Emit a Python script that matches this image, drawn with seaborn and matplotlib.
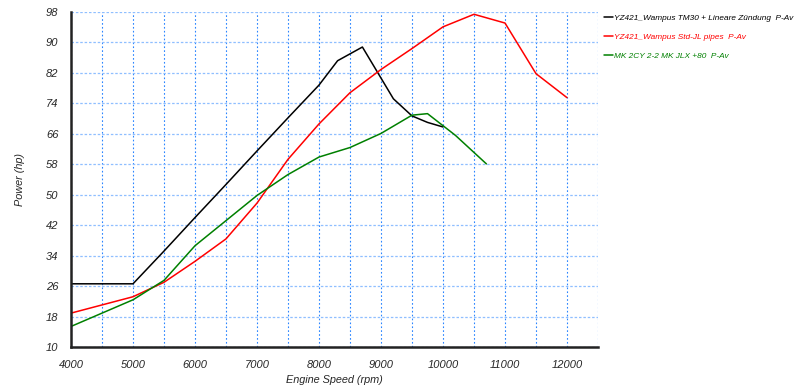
import matplotlib
matplotlib.use("Agg")
import matplotlib.pyplot as plt
from matplotlib.ticker import MultipleLocator, FixedLocator, FuncFormatter
import pandas as pd
import seaborn as sns

# Dyno curves (rpm vs hp)
tm30_rpm = [4000, 5000, 5500, 6000, 6500, 7000, 7500, 8000, 8300, 8700, 9200, 9500, 9750, 10000]
tm30_hp = [26.6, 26.6, 35.2, 44.0, 52.7, 61.5, 70.2, 78.8, 85.2, 88.8, 75.2, 70.7, 69.0, 67.8]

std_rpm = [4000, 5000, 5500, 6000, 6500, 7000, 7500, 8000, 8500, 9000, 9500, 10000, 10500, 11000, 11500, 12000]
std_hp = [18.9, 23.2, 27.0, 32.5, 38.4, 47.8, 59.3, 68.6, 76.8, 82.9, 88.4, 94.1, 97.4, 95.1, 81.8, 75.5]

mk_rpm = [4000, 5000, 5500, 6000, 6500, 7000, 7500, 8000, 8500, 9000, 9500, 9750, 10200, 10700]
mk_hp = [15.4, 22.4, 27.5, 36.6, 43.2, 49.8, 55.3, 59.9, 62.4, 66.1, 70.9, 71.3, 65.6, 58.1]

hp_ticks = [10, 18, 26, 34, 42, 50, 58, 66, 74, 82, 90, 98]

labels = ["YZ421_Wampus TM30 + Lineare Zündung  P-Av",
          "YZ421_Wampus Std-JL pipes  P-Av",
          "MK 2CY 2-2 MK JLX +80  P-Av"]
colors = ["#000000", "#ff0000", "#008000"]

frames = []
for name, xs, ys in zip(labels, [tm30_rpm, std_rpm, mk_rpm], [tm30_hp, std_hp, mk_hp]):
    frames.append(pd.DataFrame({"rpm": xs, "hp": ys, "run": name}))
df = pd.concat(frames, ignore_index=True)

sns.set_style("white")
plt.rcParams["font.family"] = ["Liberation Sans", "DejaVu Sans"]

fig = plt.figure(figsize=(7.99, 3.89), dpi=100)
ax = fig.add_axes([71 / 799, 1 - 347 / 389, (598 - 71) / 799, (347 - 12) / 389])

sns.lineplot(data=df, x="rpm", y="hp", hue="run", palette=colors,
             estimator=None, sort=False, linewidth=1.1, ax=ax)

ax.set_xlim(4000, 12500)
ax.set_ylim(10, 98)
ax.xaxis.set_major_locator(MultipleLocator(500))
ax.xaxis.set_major_formatter(FuncFormatter(lambda v, p: f"{int(v)}" if v % 1000 == 0 else ""))
ax.yaxis.set_major_locator(FixedLocator(hp_ticks))

ax.grid(axis="x", color="#2a85ff", linestyle=(0, (1.5, 2)), linewidth=0.8)
ax.grid(axis="y", color="#8fbfff", linestyle=(0, (2, 1.5)), linewidth=0.9)

for side in ["top", "right"]:
    ax.spines[side].set_visible(False)
for side in ["left", "bottom"]:
    ax.spines[side].set_color("#222222")
    ax.spines[side].set_linewidth(1.8)

ax.tick_params(axis="both", direction="out", length=4, width=1.4, color="#222222",
               labelsize=8, pad=5)
for lbl in ax.get_xticklabels() + ax.get_yticklabels():
    lbl.set_fontstyle("italic")

ax.set_xlabel("Engine Speed (rpm)", fontsize=7.8, fontstyle="italic", labelpad=4)
ax.set_ylabel("Power (hp)", fontsize=7.8, fontstyle="italic", labelpad=15)

leg = ax.legend(loc="upper left", bbox_to_anchor=(601 / 799, 1 - 11 / 389),
                bbox_transform=fig.transFigure, frameon=False,
                fontsize=5.95, labelcolor="linecolor", handlelength=1.0,
                handletextpad=0.2, labelspacing=1.35, borderaxespad=0)
for t in leg.get_texts():
    t.set_fontstyle("italic")

fig.savefig("out.png", dpi=100)
